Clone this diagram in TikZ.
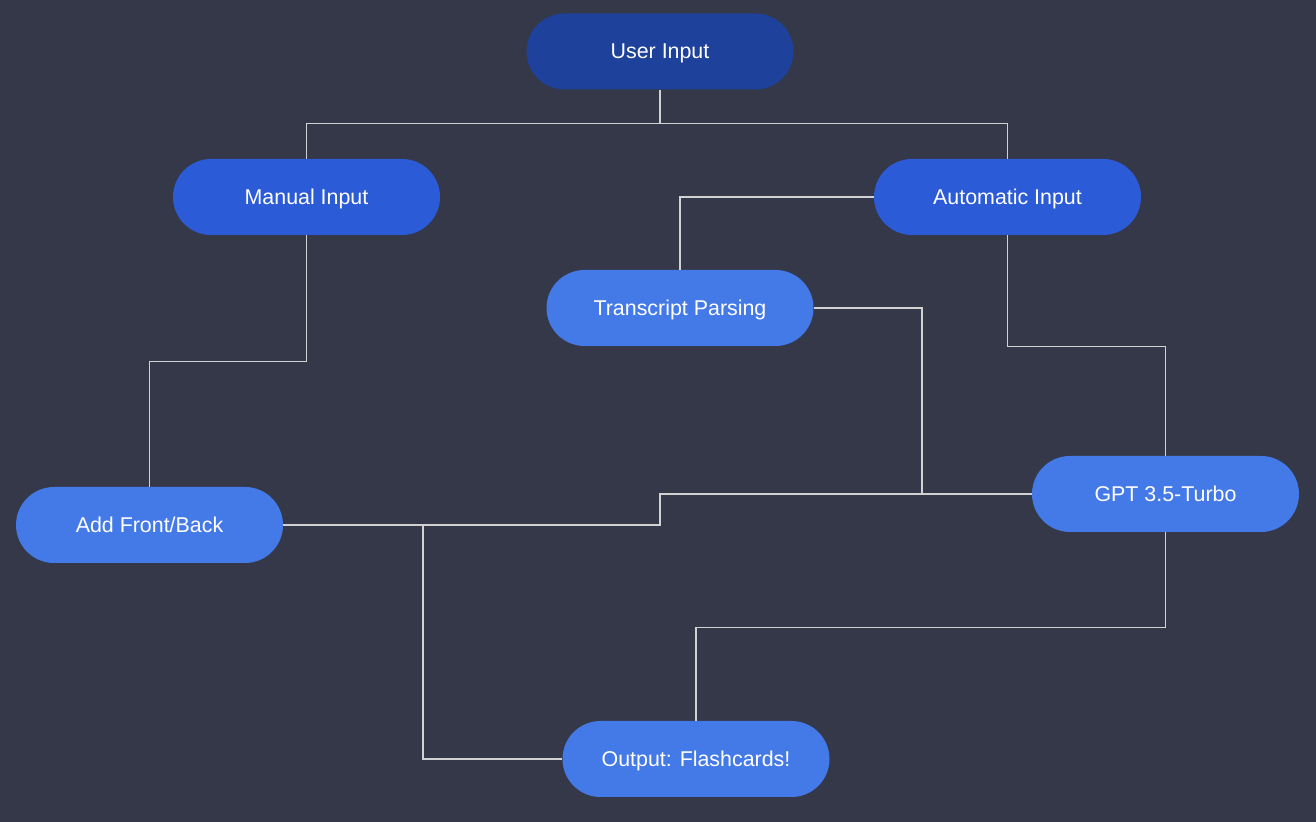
\documentclass[tikz,border=0pt]{standalone}
\usepackage{fontspec}
\setmainfont{Liberation Sans}
\definecolor{bgslate}{HTML}{343849}
\definecolor{darkblue}{HTML}{1E419C}
\definecolor{midblue}{HTML}{2B5BD7}
\definecolor{lightblue}{HTML}{4479E8}
\definecolor{wiregray}{HTML}{D2D2D2}
\begin{document}
\begin{tikzpicture}[x=0.5pt,y=0.5pt,
  pill/.style={rounded corners=19pt, minimum width=133.5pt, minimum height=38pt,
    inner sep=0pt, text depth=0pt, text=white, font=\fontsize{10.7}{12}\selectfont},
  wire/.style={draw=wiregray, line width=0.8pt}]
\fill [bgslate] (0,0) rectangle (1316,822);
\useasboundingbox (0,0) rectangle (1316,822);
% boxes
\node [pill, fill=darkblue] (ui) at (660,770.5) {User Input};
\node [pill, fill=midblue] (mi) at (306.5,625) {Manual Input};
\node [pill, fill=midblue] (ai) at (1007.5,625) {Automatic Input};
\node [pill, fill=lightblue] (tp) at (680,514) {Transcript Parsing};
\node [pill, fill=lightblue] (af) at (149.5,297) {Add Front/Back};
\node [pill, fill=lightblue] (gpt) at (1165.5,328) {GPT 3.5-Turbo};
\node [pill, fill=lightblue] (out) at (696,63) {Output: Flashcards!};
% lines
\draw [wire] (ui.south) -- ++(0,-33.5) coordinate (split);
\draw [wire] (mi.north) |- (split) -| (ai.north);
\draw [wire] (ai.west) -| (tp.north);
\draw [wire] (mi.south) -- ++(0,-126) -| (af.north);
\draw [wire] (ai.south) -- ++(0,-111) -| (gpt.north);
\draw [wire] (tp.east) -| (922,328) -- (gpt.west);
\draw [wire] (af.east) -- (423,297) coordinate (fork) -| (660,328) -- (gpt.west);
\draw [wire] (fork) |- (out.west);
\draw [wire] (gpt.south) -- ++(0,-95) -| (out.north);
\end{tikzpicture}
\end{document}
